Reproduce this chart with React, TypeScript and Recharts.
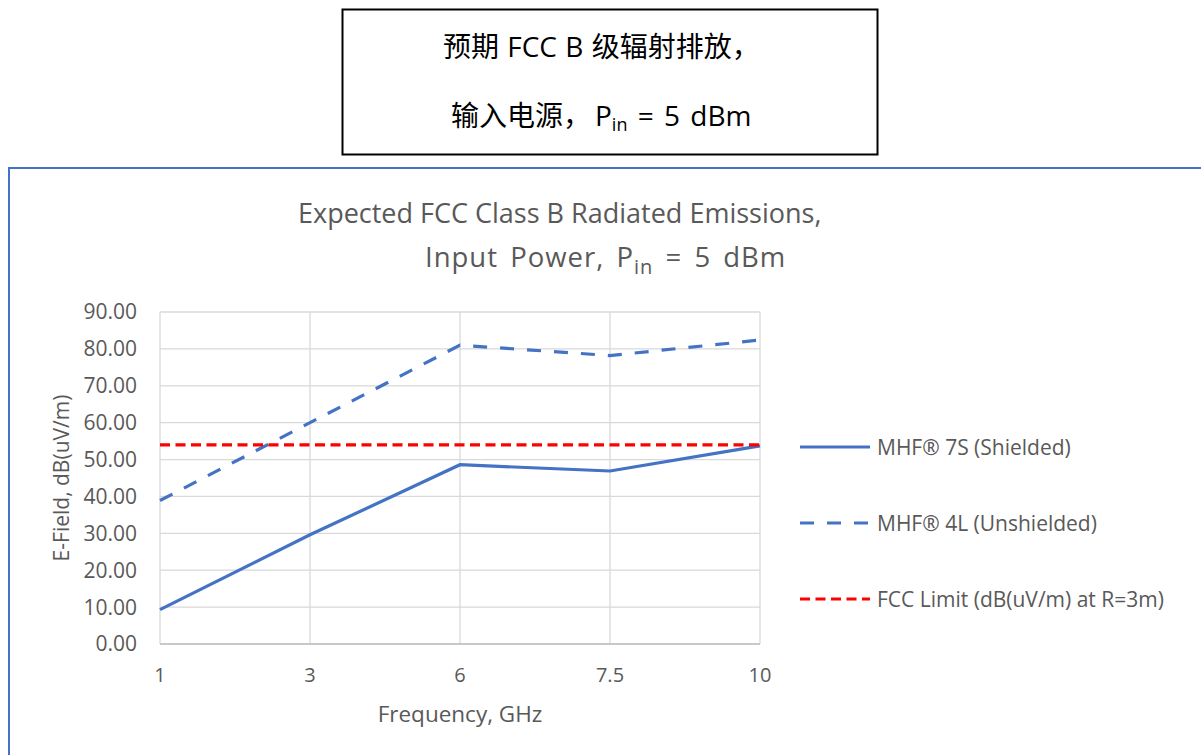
import React from 'react';
import { LineChart, Line, XAxis, YAxis, CartesianGrid, Legend } from 'recharts';

// Frequency categories (GHz)
const frequencies = ['1', '3', '6', '7.5', '10'];
// E-field levels, dB(uV/m)
const shielded = [9.3, 29.6, 48.6, 46.9, 53.7];
const unshielded = [38.9, 60.0, 81.0, 78.2, 82.4];
const fccLimit = [54, 54, 54, 54, 54];
// Y axis ticks
const yTicks = [0, 10, 20, 30, 40, 50, 60, 70, 80, 90];

const series = [
  { key: 'shielded', name: 'MHF® 7S (Shielded)', color: '#4472C4', dash: undefined as string | undefined },
  { key: 'unshielded', name: 'MHF® 4L (Unshielded)', color: '#4472C4', dash: '14 13' },
  { key: 'fcc', name: 'FCC Limit (dB(uV/m) at R=3m)', color: '#FF0000', dash: '10 5.5' },
];

const data = frequencies.map((f, i) => ({
  freq: f,
  shielded: shielded[i],
  unshielded: unshielded[i],
  fcc: fccLimit[i],
}));

const FONT = '"Open Sans", "Noto Sans", sans-serif';
const MIXED = '"Open Sans", "Noto Sans CJK SC", sans-serif';
const GREY = '#595959';

const LegendContent = () => (
  <svg width={400} height={200} style={{ overflow: 'visible' }}>
    {series.map((s, i) => {
      const y = 15 + i * 76;
      return (
        <g key={s.key}>
          <line x1={0} x2={70} y1={y} y2={y} stroke={s.color} strokeWidth={3} strokeDasharray={s.dash} />
          <text x={77} y={y} dominantBaseline="central" fontFamily={FONT} fontSize={21} fill={GREY}>
            {s.name}
          </text>
        </g>
      );
    })}
  </svg>
);

const YLabel = (props: any) => {
  const vb = props.viewBox || {};
  const cx = 61;
  const cy = vb.y + vb.height / 2;
  return (
    <text
      x={cx}
      y={cy}
      transform={`rotate(-90 ${cx} ${cy})`}
      textAnchor="middle"
      dominantBaseline="central"
      fontFamily={FONT}
      fontSize={21}
      fill={GREY}
    >
      E-Field, dB(uV/m)
    </text>
  );
};

export default function App() {
  return (
    <div style={{ position: 'fixed', left: 0, top: 0, width: 1201, height: 755, background: '#fff', overflow: 'hidden' }}>
      {/* chart frame */}
      <div
        style={{
          position: 'absolute',
          left: 8,
          top: 167,
          width: 1300,
          height: 700,
          borderLeft: '2px solid #4472C4',
          borderTop: '2px solid #4472C4',
        }}
      />
      {/* header box and chart title */}
      <svg width={1201} height={300} style={{ position: 'absolute', left: 0, top: 0 }}>
        <rect x={342.5} y={9.5} width={535} height={145} fill="#fff" stroke="#000" strokeWidth={2} />
        <text x={443} y={57} fontFamily={MIXED} fontSize={28} wordSpacing={1} fill="#000">
          预期 FCC B 级辐射排放，
        </text>
        <text x={451} y={126} fontFamily={MIXED} fontSize={28} fill="#000">
          输入电源，<tspan dx={4}>P</tspan>
          <tspan fontSize={18} dy={5}>in</tspan>
          <tspan dy={-5} wordSpacing={3}> = 5 dBm</tspan>
        </text>
        <text x={298} y={223} fontFamily={FONT} fontSize={27} fill={GREY}>
          Expected FCC Class B Radiated Emissions,
        </text>
        <text x={425} y={267} fontFamily={FONT} fontSize={27.5} letterSpacing={1} wordSpacing={4} fill={GREY}>
          Input Power, P<tspan fontSize={20} dy={7}>in</tspan>
          <tspan dy={-7}> = 5 dBm</tspan>
        </text>
      </svg>
      <div style={{ position: 'absolute', left: 0, top: 0 }}>
        <LineChart width={1201} height={755} data={data} margin={{ top: 312, right: 441, bottom: 81, left: 60 }}>
          <CartesianGrid stroke="#d9d9d9" strokeWidth={1.3} />
          <XAxis
            dataKey="freq"
            type="category"
            height={30}
            tickLine={false}
            tickSize={0}
            tickMargin={24}
            axisLine={{ stroke: '#bfbfbf', strokeWidth: 1.5 }}
            tick={{ fontFamily: FONT, fontSize: 20, fill: GREY }}
            interval={0}
            label={{
              value: 'Frequency, GHz',
              position: 'insideBottom',
              offset: -48,
              fontFamily: FONT,
              fontSize: 22.5,
              fill: GREY,
            }}
          />
          <YAxis
            width={100}
            domain={[0, 90]}
            ticks={yTicks}
            tickFormatter={(v: number) => v.toFixed(2)}
            axisLine={false}
            tickLine={false}
            tickSize={0}
            tickMargin={23}
            tick={{ fontFamily: FONT, fontSize: 21, fill: GREY }}
            label={<YLabel />}
          />
          <Legend
            layout="horizontal"
            verticalAlign="middle"
            align="center"
            content={<LegendContent />}
            wrapperStyle={{ left: 800, top: 432, width: 400, height: 200 }}
          />
          {series.map((s) => (
            <Line
              key={s.key}
              type="linear"
              dataKey={s.key}
              name={s.name}
              stroke={s.color}
              strokeWidth={3.2}
              strokeDasharray={s.dash}
              dot={false}
              activeDot={false}
              isAnimationActive={false}
            />
          ))}
        </LineChart>
      </div>
    </div>
  );
}
